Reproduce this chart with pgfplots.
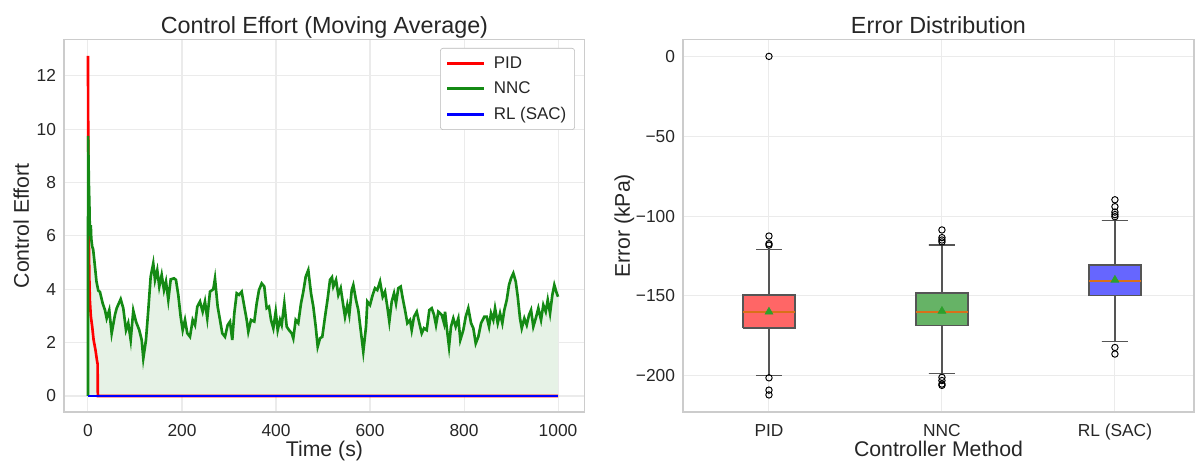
\documentclass[border=0pt]{standalone}
\usepackage{fontspec}
\setmainfont{Liberation Sans}
\usepackage{pgfplots}
\usepackage{pgfplotstable}
\pgfplotsset{compat=1.18}

\definecolor{gridc}{HTML}{EBEBEB}
\definecolor{framec}{HTML}{CCCCCC}
\definecolor{textc}{HTML}{262626}
\definecolor{pidc}{HTML}{FF0000}
\definecolor{nncc}{HTML}{148A14}
\definecolor{rlc}{HTML}{0000FF}
\definecolor{pidfill}{HTML}{FFE5E5}
\definecolor{nncfill}{HTML}{E6F2E6}
\definecolor{pidbox}{HTML}{FF6666}
\definecolor{nncbox}{HTML}{66B366}
\definecolor{rlbox}{HTML}{6666FF}
\definecolor{edgec}{HTML}{555555}
\definecolor{medc}{HTML}{D9701A}
\definecolor{meanc}{HTML}{2CA02C}

\pgfplotsset{
  panel/.style={
    scale only axis, height=268pt,
    grid=major, major grid style={gridc, line width=0.75pt},
    axis line style={framec, line width=0.9pt},
    major tick length=0pt, minor tick num=0,
    tick label style={font=\fontsize{12.5}{14}\selectfont, text=textc},
    /pgf/number format/assume math mode=true,
    /pgf/number format/1000 sep={},
    xticklabel style={anchor=base, yshift=-17.8pt},
    yticklabel style={anchor=east, xshift=-2.2pt},
    label style={font=\fontsize{15.3}{18}\selectfont, text=textc},
    xlabel style={at={(axis description cs:0.5,-0.1184)}, anchor=base},
    title style={at={(axis description cs:0.5,0.9937)}, anchor=base,
      font=\fontsize{16.8}{20}\selectfont, text=textc},
  },
  whisk/.style={edgec, line width=1pt},
  boxs/.style={draw=edgec, line width=1pt},
  med/.style={medc, line width=1.4pt},
}

% moving-average control effort
\pgfplotstableread{
t y
0 0
0.3 9.75
1 9.0
2 7.9
3 7.2
4 6.2
5 6.0
6 6.4
7 5.9
9 5.6
11 5.5
14 5.0
18 4.3
22 3.95
25.5 3.9
31.3 3.47
36.2 3.22
39.8 2.91
45.3 3.22
50.4 2.35
57.4 3.04
61.1 3.29
69.6 3.63
75.1 3.29
80.9 2.47
85.7 2.73
90.9 2.10
96.4 3.20
102.1 2.79
109.1 2.47
114.3 2.10
117.7 1.41
123.4 2.10
128.3 3.22
133.4 4.47
138.9 4.97
142.6 4.35
147.4 4.72
151.7 4.10
156.8 4.54
161.7 3.97
166 4.29
170.9 3.60
176 4.37
183 4.41
187.2 4.35
192.1 3.79
197.2 2.97
201.5 2.47
206.4 2.85
211.3 2.35
217 2.22
222.8 2.85
227.7 2.66
232.6 3.35
238.3 3.54
244 3.16
248.9 3.54
253.8 2.91
259.6 3.91
266.6 4.0
270.2 4.4
275.9 3.35
280.9 2.85
285.7 2.35
291.5 2.22
297.2 2.66
302.1 2.79
307 2.10
311.3 3.10
316.4 3.85
321.3 3.79
327 3.91
332.6 3.35
337.7 2.85
341.1 2.41
346.8 2.85
353.8 2.79
358.9 3.47
363.8 3.97
369.6 4.22
375.1 4.10
380.2 3.29
385.1 3.35
389.4 2.85
394.3 2.54
399.4 3.16
403.6 2.47
408.5 2.85
412.1 2.66
417.7 3.47
422.8 2.60
427.7 2.47
433.4 2.35
436.8 2.16
441.9 2.85
447.4 2.73
453.2 3.47
458.1 3.91
463.2 4.47
468.7 4.72
474.5 3.85
479.4 3.35
484.5 2.60
488.7 1.85
493.6 2.16
498.5 2.22
504.3 2.97
510 3.66
514.9 4.35
519.1 4.45
521.9 4.10
527.7 4.35
532.6 3.79
537.7 4.04
541.9 3.54
546.8 2.97
551.7 3.41
555.9 3.04
561.1 3.97
564.5 4.16
570.2 3.60
575.1 3.22
580.2 2.47
585.7 1.66
591.5 2.60
594.3 3.54
600 3.41
605.7 3.79
610.6 4.04
615.5 3.97
621.3 4.29
627 3.72
631.9 3.91
636.8 3.35
641.1 2.79
646.2 3.54
651.1 3.85
655.3 3.47
660.2 4.04
665.3 4.10
669.6 3.66
674.5 3.22
679.4 2.73
685.1 2.85
688.7 2.47
693.6 2.97
699.4 3.16
704.9 2.73
710 2.35
714.9 2.54
720.6 2.47
726.2 3.22
731.3 3.29
736.2 3.04
740.4 2.66
745.3 3.16
752.6 3.04
757.4 2.73
759.6 3.16
763.2 2.57
768.1 1.85
772.3 2.60
777.2 2.91
782.3 2.60
787.9 2.91
792.1 2.10
798.5 2.47
803.6 2.97
809.1 3.29
814.9 2.73
819.8 2.54
824.9 1.97
830.4 2.22
836.2 2.73
843.2 2.97
848.3 2.97
853.2 2.60
857.4 3.10
862.3 2.85
866 3.29
871.7 2.73
876.6 3.10
881.5 2.73
885.7 3.22
890.9 3.60
895.7 4.16
900 4.41
904.9 4.60
910 4.29
914.3 3.72
919.1 2.91
922.8 2.54
928.3 2.91
933.4 2.66
938.3 3.04
942.6 3.22
947.4 2.60
952.6 2.91
958.1 3.29
963.8 2.85
968.7 3.41
973.8 3.16
978.1 3.60
983 3.10
987.9 3.79
992.1 4.16
997.2 3.85
1000 3.72
}\nncdata

\pgfplotstableread{
t y
0 12.75
0.5 10.0
1.2 7.5
2 5.6
3 4.4
4 3.6
6 3.0
9 2.6
12 2.1
16 1.72
19.5 1.29
20.5 1.2
21 0
1000 0
}\piddata

\pgfplotstableread{
t y
0 0
1000 0
}\rldata

\begin{document}
\begin{tikzpicture}
\path[use as bounding box] (-46.08pt,-35.28pt) rectangle (814.32pt,296.64pt);

\begin{axis}[panel,
  at={(0,0)}, anchor=south west, width=375pt,
  xmin=-51, xmax=1057, ymin=-0.6, ymax=13.35,
  xtick={0,200,400,600,800,1000}, ytick={0,2,4,6,8,10,12},
  xlabel={Time (s)}, ylabel={Control Effort},
  ylabel style={at={(axis description cs:-0.0672,0.5)}, anchor=base},
  title={Control Effort (Moving Average)},
  legend style={at={(axis description cs:0.981,0.978)}, anchor=north east,
    font=\fontsize{12.2}{14}\selectfont, text=textc,
    draw=black!28, fill=white, rounded corners=2pt,
    inner xsep=4pt, inner ysep=4pt, row sep=4.2pt, column sep=4pt},
  legend cell align=left,
  legend image code/.code={\draw[#1] (0pt,0pt) -- (26.6pt,0pt);},
]
  \addplot[draw=none, fill=pidfill, forget plot] table {\piddata} \closedcycle;
  \addplot[draw=none, fill=nncfill, forget plot] table {\nncdata} \closedcycle;
  \addplot[pidc, line width=1.9pt] table {\piddata};
  \addlegendentry{PID}
  \addplot[nncc, line width=1.9pt] table {\nncdata};
  \addlegendentry{NNC}
  \addplot[rlc, line width=1.9pt] table {\rldata};
  \addlegendentry{RL (SAC)}
\end{axis}

\begin{axis}[panel,
  at={(445.68pt,0)}, anchor=south west, width=367.9pt,
  xmin=0.503, xmax=3.457, ymin=-222.7, ymax=10.4,
  xtick={1,2,3}, xticklabels={PID,NNC,RL (SAC)},
  ytick={-200,-150,-100,-50,0},
  yticklabels={−200,−150,−100,−50,0},
  xlabel={Controller Method}, ylabel={Error (kPa)},
  ylabel style={at={(axis description cs:-0.1038,0.5)}, anchor=base},
  title={Error Distribution},
]
  % PID: whiskers, box, median
  \addplot[whisk] coordinates {(1,-149.4) (1,-120.8) (0.925,-120.8) (1.075,-120.8)};
  \addplot[whisk] coordinates {(1,-170) (1,-200) (0.925,-200) (1.075,-200)};
  \addplot[boxs, fill=pidbox] coordinates {(0.85,-170) (1.15,-170) (1.15,-149.4) (0.85,-149.4) (0.85,-170)};
  \addplot[med] coordinates {(0.85,-159.8) (1.15,-159.8)};
  % NNC
  \addplot[whisk] coordinates {(2,-148.1) (2,-118.1) (1.925,-118.1) (2.075,-118.1)};
  \addplot[whisk] coordinates {(2,-168.7) (2,-198.5) (1.925,-198.5) (2.075,-198.5)};
  \addplot[boxs, fill=nncbox] coordinates {(1.85,-168.7) (2.15,-168.7) (2.15,-148.1) (1.85,-148.1) (1.85,-168.7)};
  \addplot[med] coordinates {(1.85,-159.8) (2.15,-159.8)};
  % RL (SAC)
  \addplot[whisk] coordinates {(3,-130.6) (3,-102.9) (2.925,-102.9) (3.075,-102.9)};
  \addplot[whisk] coordinates {(3,-149.8) (3,-178.7) (2.925,-178.7) (3.075,-178.7)};
  \addplot[boxs, fill=rlbox] coordinates {(2.85,-149.8) (3.15,-149.8) (3.15,-130.6) (2.85,-130.6) (2.85,-149.8)};
  \addplot[med] coordinates {(2.85,-140.8) (3.15,-140.8)};
  % outliers
  \addplot[only marks, mark=o, mark size=2.3pt,
    mark options={draw=black, fill=none, line width=0.7pt}]
    coordinates {
      (1,0) (1,-112.5) (1,-117.3) (1,-118.2) (1,-201.3) (1,-209) (1,-212)
      (2,-108.7) (2,-113.5) (2,-115) (2,-116.2) (2,-201) (2,-203) (2,-205.2) (2,-206)
      (3,-89.8) (3,-94.1) (3,-97.5) (3,-99.1) (3,-100.4) (3,-182.3) (3,-186.4)
    };
  % means
  \addplot[only marks, mark=triangle*, mark size=3.3pt,
    mark options={draw=meanc, fill=meanc}]
    coordinates {(1,-160) (2,-159.5) (3,-140)};
\end{axis}
\end{tikzpicture}
\end{document}
